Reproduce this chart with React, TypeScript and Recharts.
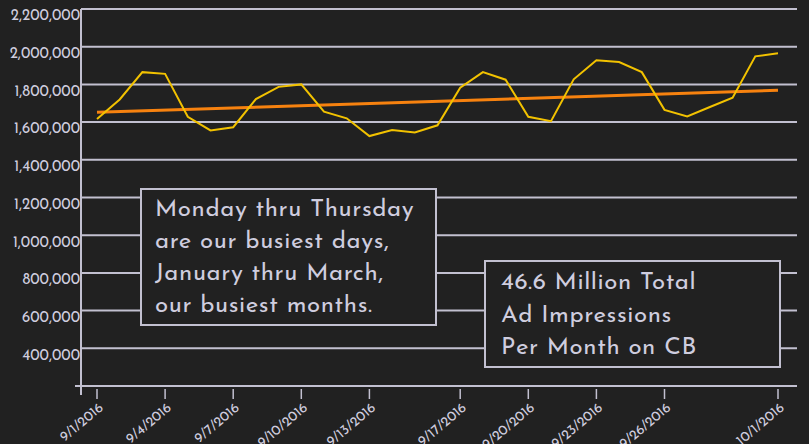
import React from 'react';
import { LineChart, Line, XAxis, YAxis, CartesianGrid, ReferenceLine } from 'recharts';

const dates = [
  '9/1/2016', '9/2/2016', '9/3/2016', '9/4/2016', '9/5/2016', '9/6/2016', '9/7/2016', '9/8/2016',
  '9/9/2016', '9/10/2016', '9/11/2016', '9/12/2016', '9/13/2016', '9/14/2016', '9/15/2016', '9/16/2016',
  '9/17/2016', '9/18/2016', '9/19/2016', '9/20/2016', '9/21/2016', '9/22/2016', '9/23/2016', '9/24/2016',
  '9/25/2016', '9/26/2016', '9/27/2016', '9/28/2016', '9/29/2016', '9/30/2016', '10/1/2016',
];

const impressions = [
  1616000, 1720000, 1865000, 1856000, 1628000, 1556000, 1573000, 1722000,
  1787000, 1800000, 1655000, 1620000, 1526000, 1558000, 1545000, 1583000,
  1782000, 1865000, 1825000, 1628000, 1605000, 1827000, 1928000, 1919000,
  1865000, 1665000, 1630000, 1680000, 1729000, 1949000, 1965000,
];

// trend line end values
const trendStart = 1652000;
const trendEnd = 1769000;

const xTicks = ['9/1/2016', '9/4/2016', '9/7/2016', '9/10/2016', '9/13/2016', '9/17/2016', '9/20/2016', '9/23/2016', '9/26/2016', '10/1/2016'];
const yTicks = [400000, 600000, 800000, 1000000, 1200000, 1400000, 1600000, 1800000, 2000000, 2200000];

const data = dates.map((d, i) => ({ date: d, value: impressions[i] }));

const BG = '#212121';
const INK = '#cfcddf';
const GRID = '#c2c0d0';
const FONT = '"Josefin Sans", Lato, sans-serif';

function DateTick(props: any) {
  const { x, y, payload } = props;
  const tx = x + 7;
  const ty = y + 15;
  return (
    <g>
      <line x1={x} x2={x} y1={y - 5} y2={y + 5} stroke={GRID} strokeWidth={1.5} />
      <text
        x={tx}
        y={ty}
        textAnchor="end"
        fill={INK}
        fontSize={14}
        fontFamily={FONT}
        transform={`rotate(-40 ${tx} ${ty})`}
      >
        {payload.value}
      </text>
    </g>
  );
}

export default function App() {
  return (
    <div style={{ position: 'absolute', left: 0, top: 0, width: 809, height: 444, background: BG, overflow: 'hidden' }}>
      <LineChart width={809} height={444} data={data} margin={{ top: 9, right: 12, left: 0, bottom: 0 }}>
        <CartesianGrid horizontal vertical={false} stroke={GRID} strokeWidth={2} strokeOpacity={1} />
        <XAxis
          dataKey="date"
          ticks={xTicks}
          interval={0}
          padding={{ left: 16, right: 19 }}
          height={58}
          axisLine={{ stroke: GRID, strokeWidth: 2 }}
          tickLine={false}
          tick={<DateTick />}
        />
        <YAxis
          domain={[200000, 2200000]}
          ticks={yTicks}
          interval={0}
          width={81}
          axisLine={{ stroke: GRID, strokeWidth: 2 }}
          tickLine={false}
          tickSize={0}
          tickMargin={1}
          tickFormatter={(v: number) => v.toLocaleString('en-US')}
          tick={{ fill: INK, fontSize: 15, fontFamily: FONT, dy: 6 }}
        />
        <ReferenceLine
          segment={[{ x: dates[0], y: trendStart }, { x: dates[dates.length - 1], y: trendEnd }]}
          stroke="#f7820f"
          strokeWidth={3}
        />
        <Line type="linear" dataKey="value" stroke="#f2c200" strokeWidth={2} dot={false} isAnimationActive={false} />
      </LineChart>

      {/* axis overhangs */}
      <div style={{ position: 'absolute', left: 75, top: 385, width: 6, height: 2, background: GRID }} />
      <div style={{ position: 'absolute', left: 80, top: 386, width: 2, height: 9, background: GRID }} />

      <div
        style={{
          position: 'absolute', left: 140, top: 188, width: 293, height: 134,
          border: `2px solid ${GRID}`, background: BG,
        }}
      />
      <div
        style={{
          position: 'absolute', left: 155, top: 194, color: INK, fontFamily: FONT,
          fontSize: 24, lineHeight: '32px', whiteSpace: 'pre', letterSpacing: 0.6,
        }}
      >
        {'Monday thru Thursday\nare our busiest days,\nJanuary thru March,\nour busiest months.'}
      </div>

      <div
        style={{
          position: 'absolute', left: 484, top: 260, width: 293, height: 104,
          border: `2px solid ${GRID}`, background: BG,
        }}
      />
      <div
        style={{
          position: 'absolute', left: 501, top: 267, color: INK, fontFamily: FONT,
          fontSize: 24, lineHeight: '32.5px', whiteSpace: 'pre', letterSpacing: 0.6,
        }}
      >
        {'46.6 Million Total\nAd Impressions\nPer Month on CB'}
      </div>
    </div>
  );
}
